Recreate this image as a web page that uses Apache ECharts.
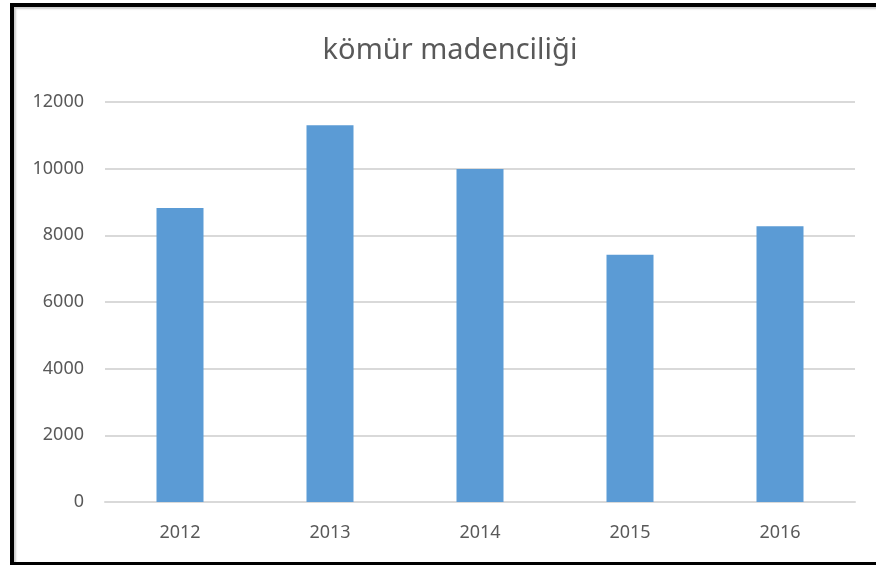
<!DOCTYPE html>
<html>
<head>
<meta charset="utf-8">
<script src="https://cdn.jsdelivr.net/npm/echarts@6/dist/echarts.min.js"></script>
<style>
  html, body { margin: 0; padding: 0; background: #fff; }
  #wrap { position: relative; width: 876px; height: 565px; overflow: hidden; }
  /* siyah çerçeve (sağ kenar görüntünün dışında) */
  .frame {
    position: absolute; left: 10px; top: 3px; width: 900px; height: 555px;
    border: 4px solid #000; box-shadow: inset 2px 2px 2px #ccc;
  }
  #chart { position: absolute; left: 0; top: 0; width: 876px; height: 565px; }
</style>
</head>
<body>
<div id="wrap">
  <div class="frame"></div>
  <div id="chart"></div>
</div>
<script>
const titleText = 'kömür madenciliği';
const years = ['2012', '2013', '2014', '2015', '2016'];
const values = [8820, 11300, 9990, 7420, 8270];
const yTicks = [0, 2000, 4000, 6000, 8000, 10000, 12000];

const option = {
  animation: false,
  title: {
    text: titleText,
    left: 445,
    top: 31,
    textAlign: 'center',
    textStyle: {
      fontFamily: 'Noto Sans',
      fontSize: 29,
      fontWeight: 'normal',
      color: '#595959'
    }
  },
  grid: {
    left: 105,
    right: 21,
    top: 102,
    bottom: 63
  },
  xAxis: {
    type: 'category',
    data: years,
    axisLine: { lineStyle: { color: '#d9d9d9', width: 2 } },
    axisTick: { show: false },
    axisLabel: {
      margin: 22,
      fontFamily: 'Noto Sans',
      fontSize: 18,
      color: '#595959'
    }
  },
  yAxis: {
    type: 'value',
    min: yTicks[0],
    max: yTicks[yTicks.length - 1],
    interval: 2000,
    axisLine: { show: false },
    axisTick: { show: false },
    splitLine: { lineStyle: { color: '#d9d9d9', width: 2 } },
    axisLabel: {
      margin: 21,
      fontFamily: 'Noto Sans',
      fontSize: 18,
      color: '#595959',
      formatter: function (v) { return String(v); }
    }
  },
  series: [
    {
      type: 'bar',
      data: values,
      barWidth: 47,
      itemStyle: { color: '#5b9bd5' }
    }
  ]
};

let chart = echarts.init(document.getElementById('chart'));
chart.setOption(option);
</script>
</body>
</html>
